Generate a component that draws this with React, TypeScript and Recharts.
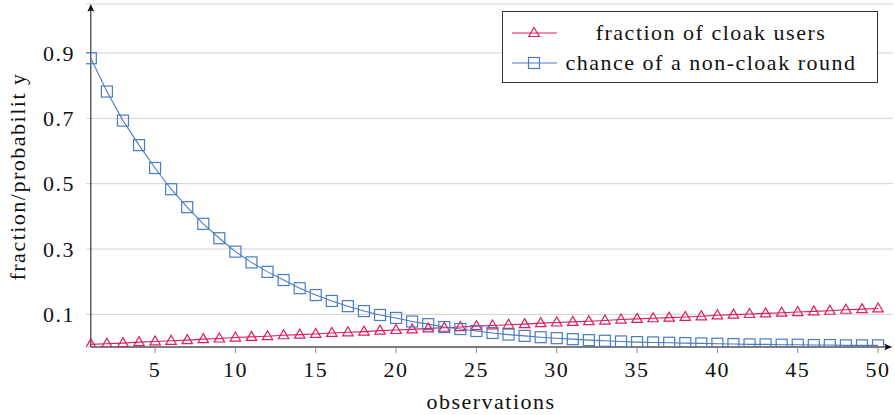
import React from "react";
import {
  LineChart,
  Line,
  XAxis,
  YAxis,
  CartesianGrid,
  ReferenceLine,
} from "recharts";

const observations = [
  1, 2, 3, 4, 5, 6, 7, 8, 9, 10, 11, 12, 13, 14, 15, 16, 17, 18, 19, 20, 21, 22, 23, 24, 25,
  26, 27, 28, 29, 30, 31, 32, 33, 34, 35, 36, 37, 38, 39, 40, 41, 42, 43, 44, 45, 46, 47, 48,
  49, 50,
];

const cloakFraction = [
  0.008, 0.01, 0.012, 0.015, 0.017, 0.019, 0.021, 0.024, 0.026, 0.029, 0.031, 0.033, 0.036,
  0.038, 0.04, 0.043, 0.045, 0.047, 0.05, 0.052, 0.054, 0.057, 0.059, 0.061, 0.064, 0.066,
  0.068, 0.07, 0.073, 0.075, 0.077, 0.079, 0.081, 0.084, 0.086, 0.088, 0.09, 0.092, 0.094,
  0.097, 0.099, 0.101, 0.103, 0.105, 0.107, 0.109, 0.111, 0.114, 0.116, 0.118,
];

const nonCloakChance = [
  0.884, 0.782, 0.693, 0.618, 0.548, 0.483, 0.428, 0.377, 0.333, 0.292, 0.259, 0.23, 0.205,
  0.18, 0.159, 0.141, 0.125, 0.11, 0.098, 0.089, 0.078, 0.07, 0.061, 0.055, 0.049, 0.043,
  0.038, 0.034, 0.03, 0.027, 0.024, 0.021, 0.019, 0.017, 0.015, 0.014, 0.013, 0.012, 0.011,
  0.01, 0.009, 0.008, 0.008, 0.007, 0.007, 0.006, 0.006, 0.005, 0.005, 0.005,
];

const xTicks = [5, 10, 15, 20, 25, 30, 35, 40, 45, 50];
const yTicks = [0.1, 0.3, 0.5, 0.7, 0.9];

const RED = "#dc1e5c";
const BLUE = "#4a7bc6";
const FONT = "'Liberation Serif', 'Times New Roman', serif";
const TEXT = { fontFamily: FONT, fontSize: 22, letterSpacing: 1.5, fill: "#111" };

const data = observations.map((obs, i) => ({
  obs,
  cloak: cloakFraction[i],
  nonCloak: nonCloakChance[i],
}));

const Triangle = (p: any) => {
  if (p.cx == null || p.cy == null) return <g key={p.key} />;
  const { cx, cy } = p;
  return (
    <polygon
      key={p.key}
      points={`${cx},${cy - 5.5} ${cx + 5.2},${cy + 3.5} ${cx - 5.2},${cy + 3.5}`}
      fill="none"
      stroke={RED}
      strokeWidth={1.2}
    />
  );
};

const Square = (p: any) => {
  if (p.cx == null || p.cy == null) return <g key={p.key} />;
  return (
    <rect
      key={p.key}
      x={p.cx - 5.5}
      y={p.cy - 5.5}
      width={11}
      height={11}
      fill="none"
      stroke={BLUE}
      strokeWidth={1.2}
    />
  );
};

// axis line with a little arrow head at its end
const arrowAxis = (p: any) => {
  const { x1, y1, x2, y2 } = p;
  const horiz = Math.abs(y2 - y1) < 0.5;
  const head = horiz
    ? `M${x2},${y2} L${x2 - 8},${y2 - 3.5} Q${x2 - 5},${y2} ${x2 - 8},${y2 + 3.5} Z`
    : `M${x2},${y2} L${x2 - 3.5},${y2 + 8} Q${x2},${y2 + 5} ${x2 + 3.5},${y2 + 8} Z`;
  return (
    <g>
      <line x1={x1} y1={y1} x2={horiz ? x2 - 4 : x2} y2={horiz ? y2 : y2 + 4} stroke="#111" strokeWidth={1} />
      <path d={head} fill="#111" />
    </g>
  );
};

const legendItems = [
  { label: "fraction of cloak users", color: RED, shape: "tri" },
  { label: "chance of a non-cloak round", color: BLUE, shape: "sq" },
];

function ChartLegend() {
  return (
    <div
      style={{
        position: "absolute",
        left: 502,
        top: 11,
        width: 374,
        height: 70,
        border: "1px solid #333",
        background: "#fff",
        fontFamily: FONT,
        fontSize: 22,
        letterSpacing: 1.5,
        color: "#111",
      }}
    >
      {legendItems.map((it, i) => (
        <div
          key={it.label}
          style={{ position: "absolute", left: 0, top: 6 + i * 30, height: 30, display: "flex", alignItems: "center" }}
        >
          <svg width={60} height={30} style={{ display: "block" }}>
            <line x1={9} y1={15} x2={54} y2={15} stroke={it.color} strokeWidth={1.2} />
            {it.shape === "tri" ? (
              <polygon points="31,9.5 36.2,18.5 25.8,18.5" fill="none" stroke={it.color} strokeWidth={1.2} />
            ) : (
              <rect x={25.5} y={9.5} width={11} height={11} fill="none" stroke={it.color} strokeWidth={1.2} />
            )}
          </svg>
          <div style={{ width: 296, textAlign: "center", whiteSpace: "nowrap", lineHeight: "30px" }}>{it.label}</div>
        </div>
      ))}
    </div>
  );
}

export default function App() {
  return (
    <div style={{ position: "absolute", left: 0, top: 0, width: 895, height: 415, background: "#fff" }}>
      <LineChart width={895} height={415} data={data} margin={{ top: 4, right: 2, bottom: 0, left: 0 }}>
        <CartesianGrid horizontal vertical={false} stroke="#d2d2d2" strokeWidth={1} />
        <XAxis
          type="number"
          dataKey="obs"
          domain={[0.7, 50.93]}
          ticks={xTicks}
          allowDataOverflow
          height={68}
          axisLine={false}
          tickSize={6}
          tickMargin={8}
          tickLine={{ stroke: "#8a8a8a" }}
          tick={TEXT}
          label={{
            content: (props: any) => {
              const vb = props.viewBox;
              return (
                <text x={vb.x + vb.width / 2 + 1.5} y={409} textAnchor="middle" style={TEXT}>
                  observations
                </text>
              );
            },
          }}
        />
        <YAxis
          type="number"
          domain={[0, 1.05]}
          ticks={yTicks}
          allowDataOverflow
          width={86}
          axisLine={false}
          tickLine={false}
          tickSize={5}
          tickMargin={6}
          tick={TEXT}
          label={{
            content: (props: any) => {
              const vb = props.viewBox;
              const cx = 17;
              const cy = vb.y + vb.height / 2 + 1;
              return (
                <text
                  x={cx}
                  y={cy}
                  textAnchor="middle"
                  dominantBaseline="central"
                  transform={`rotate(-90 ${cx} ${cy})`}
                  style={TEXT}
                >
                  fraction/probabilit y
                </text>
              );
            },
          }}
        />
        <ReferenceLine segment={[{ x: 1, y: 0 }, { x: 50.87, y: 0 }]} shape={arrowAxis} ifOverflow="visible" />
        <ReferenceLine segment={[{ x: 1, y: 0 }, { x: 1, y: 1.05 }]} shape={arrowAxis} ifOverflow="visible" />
        <Line
          type="linear"
          dataKey="cloak"
          stroke={RED}
          strokeWidth={1.1}
          dot={Triangle}
          activeDot={false}
          isAnimationActive={false}
        />
        <Line
          type="linear"
          dataKey="nonCloak"
          stroke={BLUE}
          strokeWidth={1.1}
          dot={Square}
          activeDot={false}
          isAnimationActive={false}
        />
      </LineChart>
      <ChartLegend />
    </div>
  );
}
